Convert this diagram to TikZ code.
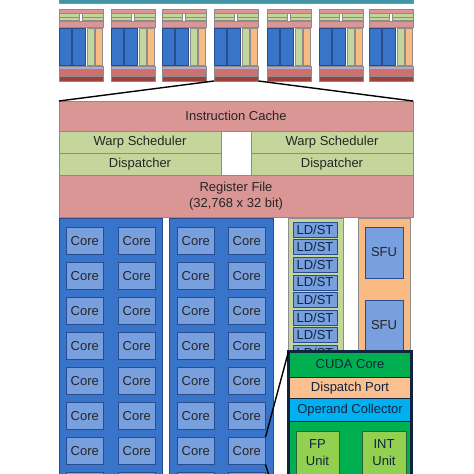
\documentclass[tikz,border=0pt]{standalone}
\usepackage{fontspec}
\setmainfont{Liberation Sans}
\definecolor{tealc}{RGB}{64,150,164}
\definecolor{pinkc}{RGB}{218,150,148}
\definecolor{greenc}{RGB}{196,214,156}
\definecolor{bluec}{RGB}{56,116,202}
\definecolor{bluedark}{RGB}{40,76,140}
\definecolor{corec}{RGB}{120,160,222}
\definecolor{orangec}{RGB}{250,186,132}
\definecolor{lavc}{RGB}{180,168,210}
\definecolor{redm}{RGB}{206,112,108}
\definecolor{redd}{RGB}{160,64,60}
\definecolor{edgegray}{RGB}{140,140,140}
\definecolor{txt}{RGB}{38,38,38}
\definecolor{cudagreen}{RGB}{0,176,80}
\definecolor{dispor}{RGB}{250,192,144}
\definecolor{opcyan}{RGB}{0,176,240}
\definecolor{unitgreen}{RGB}{146,208,80}
\definecolor{navy}{RGB}{16,36,64}
\definecolor{darkgreen}{RGB}{40,100,50}
\newcommand\rbox[7]{\node[#1,anchor=north west,minimum width={((#5)-(#3))*1pt},minimum height={((#6)-(#4))*1pt}] (#2) at (#3,#4) {#7};}
\begin{document}
\begin{tikzpicture}[x=1pt,y=-1pt,
  font=\fontsize{13}{16}\selectfont,
  box/.style={draw=edgegray,line width=0.6pt,inner sep=0pt,outer sep=0pt,text=txt,align=center},
  mini/.style={draw=edgegray,line width=0.4pt},
  col/.style={box,draw=bluedark,fill=bluec},
  core/.style={box,draw=bluedark,fill=corec},
  ldst/.style={box,draw=bluedark,fill=corec,text=navy},
  cband/.style={box,draw=navy,line width=0.5pt,text=navy},
  unit/.style={box,draw=darkgreen,fill=unitgreen},
  zoomline/.style={draw=black,line width=1.4pt}]
\useasboundingbox (0,0) rectangle (474,474);
\clip (0,0) rectangle (474,474);
% top bar
\rbox{box,fill=tealc}{topbar}{59}{-6}{413}{3}{}
% mini SMs
\foreach \sx [count=\i] in {59,111,162,214,267,319,369}{
 \begin{scope}[shift={(\sx,0)}]
  \draw[mini,fill=pinkc] (0,9.5) rectangle (44.5,13);
  \draw[mini,fill=greenc] (0,13.5) rectangle (20,17);
  \draw[mini,fill=greenc] (0,17) rectangle (20,20.5);
  \draw[mini,fill=greenc] (23.5,13.5) rectangle (44.5,17);
  \draw[mini,fill=greenc] (23.5,17) rectangle (44.5,20.5);
  \draw[mini,fill=pinkc] (0,21.5) rectangle (44.5,27);
  \draw[mini,fill=bluec,draw=bluedark] (0,28) rectangle (12.5,65);
  \draw[mini,fill=bluec,draw=bluedark] (13.5,28) rectangle (26.5,65);
  \draw[mini,fill=greenc] (28,28) rectangle (35,65);
  \draw[mini,fill=orangec] (36.5,28) rectangle (43.5,65);
  \draw[mini,fill=lavc] (0,66) rectangle (44.5,69.5);
  \draw[mini,fill=redm] (0,69.5) rectangle (44.5,76);
  \draw[mini,fill=redd] (0,76) rectangle (44.5,81);
  \node[inner sep=0pt,outer sep=0pt,minimum width=44.5pt,minimum height=72pt,anchor=north west] (sm\i) at (0,9) {};
 \end{scope}}
% main SM
\rbox{box,fill=pinkc}{ic}{59}{101}{413}{131}{Instruction Cache}
\rbox{box,fill=greenc}{wsl}{59}{131}{221}{153}{Warp Scheduler}
\rbox{box,fill=greenc}{wsr}{251}{131}{413}{153}{Warp Scheduler}
\rbox{box,fill=greenc}{dpl}{59}{153}{221}{175}{Dispatcher}
\rbox{box,fill=greenc}{dpr}{251}{153}{413}{175}{Dispatcher}
\rbox{box,fill=pinkc}{rf}{59}{175}{413}{217}{Register File\\(32,768 x 32 bit)}
\draw[zoomline] (sm4.south west) -- (ic.north west);
\draw[zoomline] (sm4.south east) -- (ic.north east);
% core columns
\rbox{col}{colA}{59}{218}{162}{490}{}
\rbox{col}{colB}{169}{218}{273}{490}{}
\foreach \cx [count=\j] in {66,118,177,228}{
 \foreach \ry [count=\k] in {227,262,297,332,367,402,437}{
  \rbox{core}{c\j\k}{\cx}{\ry}{\cx+37.5}{\ry+27.5}{Core}
 }
 \rbox{core}{c\j8}{\cx}{472}{\cx+37.5}{499.5}{}
 }
% LD/ST column
\rbox{box,fill=greenc}{ldcol}{288}{218}{343}{490}{}
\foreach \k in {0,...,7}{
  \rbox{ldst}{ld\k}{293}{222+17.6*\k}{337}{237+17.6*\k}{LD/ST}
}
% SFU column
\rbox{box,fill=orangec}{sfucol}{358}{218}{410}{490}{}
\rbox{ldst,text=txt}{sfu1}{365}{227}{403}{278}{SFU}
\rbox{ldst,text=txt}{sfu2}{365}{300}{403}{351}{SFU}
% CUDA core zoom
\rbox{box,draw=none,fill=cudagreen}{cuda}{288.5}{351.5}{411.5}{536}{}
\rbox{cband,fill=cudagreen}{cudalbl}{288.5}{351.5}{411.5}{377}{CUDA Core}
\rbox{cband,fill=dispor}{disp}{288.5}{377}{411.5}{398.5}{Dispatch Port}
\rbox{cband,fill=opcyan}{opc}{288.5}{398.5}{411.5}{421}{Operand Collector}
\rbox{unit}{fp}{296}{431}{339}{500}{}
\rbox{unit}{int}{362}{431}{406}{500}{}
\node[text=navy,align=center,inner sep=0pt,font=\fontsize{13}{17}\selectfont] (fptxt) at (317.5,452.5) {FP\\Unit};
\node[text=navy,align=center,inner sep=0pt,font=\fontsize{13}{17}\selectfont] (inttxt) at (384,452.5) {INT\\Unit};
\draw[navy,line width=3pt] (cuda.north west) rectangle (cuda.south east);
\draw[zoomline] (c47.north east) -- (cuda.north west);
\draw[zoomline] (c47.south east) -- (cuda.south west);
\end{tikzpicture}
\end{document}
